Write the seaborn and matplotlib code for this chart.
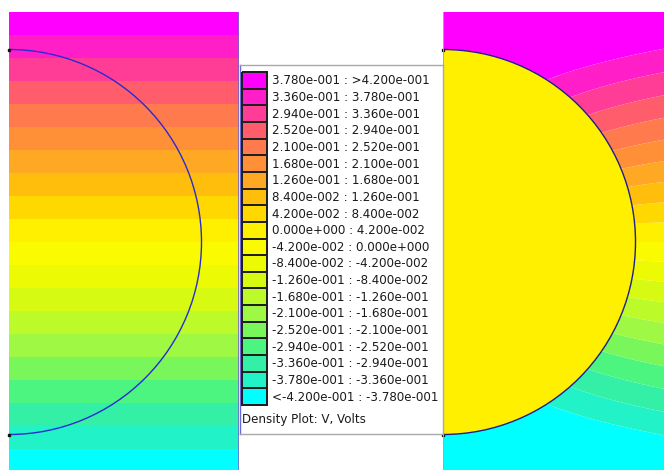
import numpy as np
import matplotlib
matplotlib.use("Agg")
import matplotlib.pyplot as plt
from matplotlib.colors import ListedColormap
from matplotlib.patches import Circle
import seaborn as sns

sns.set_style("white")
plt.rcParams["font.family"] = ["DejaVu Sans"]

# Density-plot bands for V (volts), lowest to highest
band_edges = [-0.420, -0.378, -0.336, -0.294, -0.252, -0.210, -0.168, -0.126,
              -0.084, -0.042, 0.000, 0.042, 0.084, 0.126, 0.168, 0.210,
              0.252, 0.294, 0.336, 0.378, 0.420]
band_colors = ["#00ffff", "#22f2c8", "#34f0a6", "#4cf480", "#78f65a",
               "#9ef844", "#bcfa2a", "#d6fa12", "#ecfa04", "#fafa00",
               "#fff000", "#ffd800", "#ffbe0c", "#ffa824", "#ff9038",
               "#ff7a4c", "#ff5c6c", "#ff3c96", "#ff1ec8", "#ff00ff"]

# View window (model units), applied field and cylinder
half_height = 230.0       # visible window spans y = -230 .. 230
view_width = 230.0        # visible part of each half-plane, x = 0 .. 230
radius = 192.5            # cylinder radius, centred on the axis
side_wall = 300.0         # fixed-potential side walls at x = +/- side_wall
v_edge = 0.420            # applied potential at the window's top edge
eps_ratio = 0.50          # permittivity of the cylinder relative to outside


def fmt_femm(v):
    mant, exp = f"{v:.3e}".split("e")
    return f"{mant}e{exp[0]}{int(exp[1:]):03d}"


xs = np.linspace(0.0, view_width, 231)
ys = np.linspace(-half_height, half_height, 461)
Xs, Ys = np.meshgrid(xs, ys)
E0 = v_edge / half_height

# left: cylinder with the same permittivity -> undisturbed uniform field
V_left = E0 * Ys

# right: dielectric cylinder (line dipole) between fixed-potential side walls,
# walls handled with an alternating row of image dipoles
A = (1.0 - eps_ratio) / (1.0 + eps_ratio)
dip = np.zeros_like(Xs)
for k in range(-40, 42):
    xk = 2.0 * k * side_wall
    d2 = (Xs - xk) ** 2 + Ys ** 2
    if k == 0:
        d2 = np.maximum(d2, radius ** 2)
    dip += (-1.0) ** k / d2
V_right = E0 * Ys * (1.0 + A * radius ** 2 * dip)

levels = [-10.0] + band_edges[1:-1] + [10.0]

W, H = 664, 470
fig = plt.figure(figsize=(W / 100, H / 100), dpi=100)


def px_axes(x0, y0, x1, y1):
    return fig.add_axes([x0 / W, (H - y1) / H, (x1 - x0) / W, (y1 - y0) / H])


ax_l = px_axes(9, 12, 239, 472)
ax_r = px_axes(443, 12, 673, 472)

for ax, V in ((ax_l, V_left), (ax_r, V_right)):
    ax.contourf(Xs, Ys, V, levels=levels, colors=band_colors, antialiased=True)
    ax.set_xlim(0, view_width)
    ax.set_ylim(-half_height, half_height)
    ax.set_axis_off()

# cylinder outlines
ax_l.add_patch(Circle((0, 0), radius, fill=False, edgecolor="#2a2ad2", lw=1.0))
ax_r.add_patch(Circle((0, 0), radius, facecolor=band_colors[10],
                      edgecolor="#1e1e90", lw=1.0, zorder=3))
for ax in (ax_l, ax_r):
    ax.plot([0, 0], [radius, -radius], "s", ms=1.6, color="#101010",
            clip_on=False, zorder=4)
ax_l.axvline(view_width, color="#7468cc", lw=1.2, zorder=5)
ax_r.axvline(0, color="#a4a4bc", lw=1.4, zorder=5)

# legend box
ax_leg = px_axes(239.5, 65, 443, 434)
ax_leg.set_xlim(0, 203.5)
ax_leg.set_ylim(369, 0)
ax_leg.set_xticks([])
ax_leg.set_yticks([])
for side, sp in ax_leg.spines.items():
    sp.set_visible(True)
    sp.set_linewidth(1.0)
    sp.set_color("#a8a8a8")
ax_leg.spines["left"].set_color("#6a6ad0")

labels = []
for k in range(len(band_colors) - 1, -1, -1):
    lo, hi = band_edges[k], band_edges[k + 1]
    if k == len(band_colors) - 1:
        labels.append(f"{fmt_femm(lo)} : >{fmt_femm(hi)}")
    elif k == 0:
        labels.append(f"<{fmt_femm(lo)} : {fmt_femm(hi)}")
    else:
        labels.append(f"{fmt_femm(lo)} : {fmt_femm(hi)}")

row_h = 16.65
for i, lab in enumerate(labels):
    ax_leg.text(32.5, 15.8 + row_h * i, lab, fontsize=8.6, color="#1a1a1a",
                va="center", ha="left")
ax_leg.text(2.5, 355, "Density Plot: V, Volts", fontsize=8.6,
            color="#1a1a1a", va="center", ha="left")

# legend swatches
ax_sw = px_axes(242, 72, 267, 405)
swatch = np.arange(len(band_colors))[::-1].reshape(-1, 1)
sns.heatmap(swatch, ax=ax_sw, cmap=ListedColormap(band_colors),
            vmin=-0.5, vmax=len(band_colors) - 0.5, cbar=False,
            linewidths=1.3, linecolor="#202020",
            xticklabels=False, yticklabels=False)
ax_sw.collections[0].set_clip_on(False)

fig.savefig("out.png", dpi=100)
